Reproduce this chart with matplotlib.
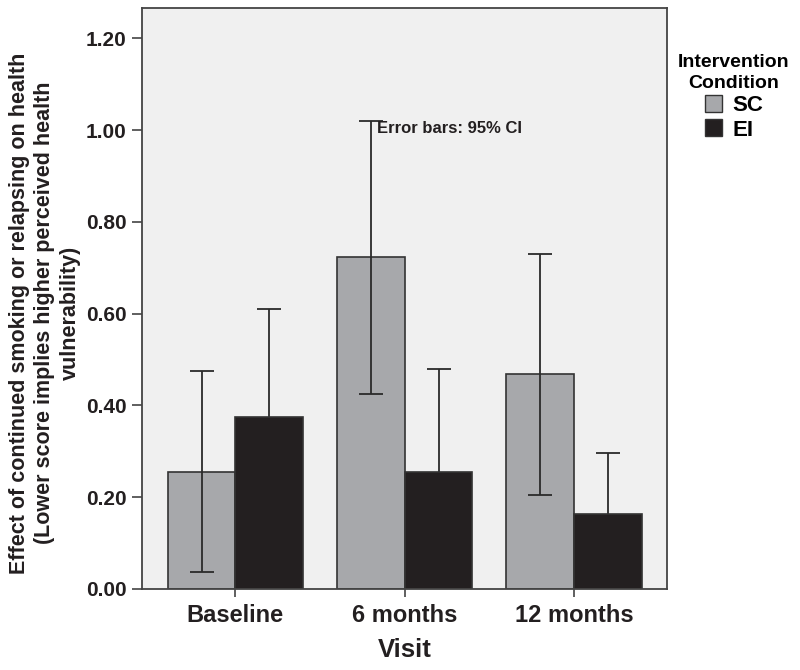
import numpy as np
import matplotlib
matplotlib.use("Agg")
import matplotlib.pyplot as plt
from matplotlib.patches import Patch

plt.rcParams['font.family'] = ['Liberation Sans', 'DejaVu Sans']

# data
visits = ['Baseline', '6 months', '12 months']
groups = ['SC', 'EI']
sc_mean = [0.256, 0.724, 0.468]
sc_low = [0.036, 0.424, 0.205]
sc_high = [0.476, 1.020, 0.731]
ei_mean = [0.375, 0.256, 0.163]
ei_low = [0.139, 0.033, 0.031]
ei_high = [0.611, 0.479, 0.296]

sc_col = '#a7a8ab'
ei_col = '#231f20'
edge = '#333333'
txt = '#231f20'

fig = plt.figure(figsize=(8, 6.7), dpi=100)
ax = fig.add_axes([0.1775, 0.1209, 0.656, 0.867])
ax.set_facecolor('#f0f0f0')

x = np.arange(len(visits))
w = 0.4

def draw(pos, mean, low, high, col, ez):
    mean = np.array(mean)
    err = [mean - np.array(low), np.array(high) - mean]
    ax.bar(pos, mean, width=w, color=col, edgecolor=edge, linewidth=1.2, zorder=2)
    ax.errorbar(pos, mean, yerr=err, fmt='none', ecolor='#2a2a2a', elinewidth=1.3,
                capsize=8.5, capthick=1.3, zorder=ez)

draw(x - w / 2, sc_mean, sc_low, sc_high, sc_col, 3)
# EI whiskers sit behind the dark bars, so only the upper half shows
draw(x + w / 2, ei_mean, ei_low, ei_high, ei_col, 1.5)

ax.set_xlim(-0.552, 2.549)
ax.set_ylim(0, 1.266)
ax.set_yticks(np.arange(0, 1.21, 0.2))
ax.set_yticklabels(['%.2f' % v for v in np.arange(0, 1.21, 0.2)])
ax.set_xticks(x)
ax.set_xticklabels(visits)
for s in ax.spines.values():
    s.set_color('#444444')
    s.set_linewidth(1.3)
ax.tick_params(axis='y', length=7, width=1.2, color='#444444', labelsize=15, pad=4)
ax.tick_params(axis='x', length=6, width=1.2, color='#444444', labelsize=17, pad=5)
for lab in ax.get_xticklabels() + ax.get_yticklabels():
    lab.set_fontweight('bold')
    lab.set_color(txt)

ax.set_xlabel('Visit', fontsize=18.5, fontweight='bold', color=txt, labelpad=8)
fig.text(45 / 800, 1 - 313 / 670,
         'Effect of continued smoking or relapsing on health\n'
         '(Lower score implies higher perceived health\nvulnerability)',
         rotation=90, ha='center', va='center', multialignment='center',
         fontsize=15.5, fontweight='bold', color=txt, linespacing=1.3)

ax.text(0.447, 0.793, 'Error bars: 95% CI', transform=ax.transAxes, fontsize=12,
        fontweight='bold', color=txt, va='center', ha='left')

handles = [Patch(facecolor=sc_col, edgecolor=edge), Patch(facecolor=ei_col, edgecolor=edge)]
leg = fig.legend(handles, groups, loc='upper center', bbox_to_anchor=(0.9175, 0.919),
                 frameon=False, title='Intervention\nCondition', handlelength=0.8,
                 handleheight=0.8, handletextpad=0.45, labelspacing=0.15,
                 borderpad=0, borderaxespad=0,
                 prop={'weight': 'bold', 'size': 16})
leg.get_title().set_fontweight('bold')
leg.get_title().set_fontsize(14)
leg.get_title().set_multialignment('center')
leg.get_title().set_linespacing(1.25)

fig.savefig('out.png', dpi=100)
